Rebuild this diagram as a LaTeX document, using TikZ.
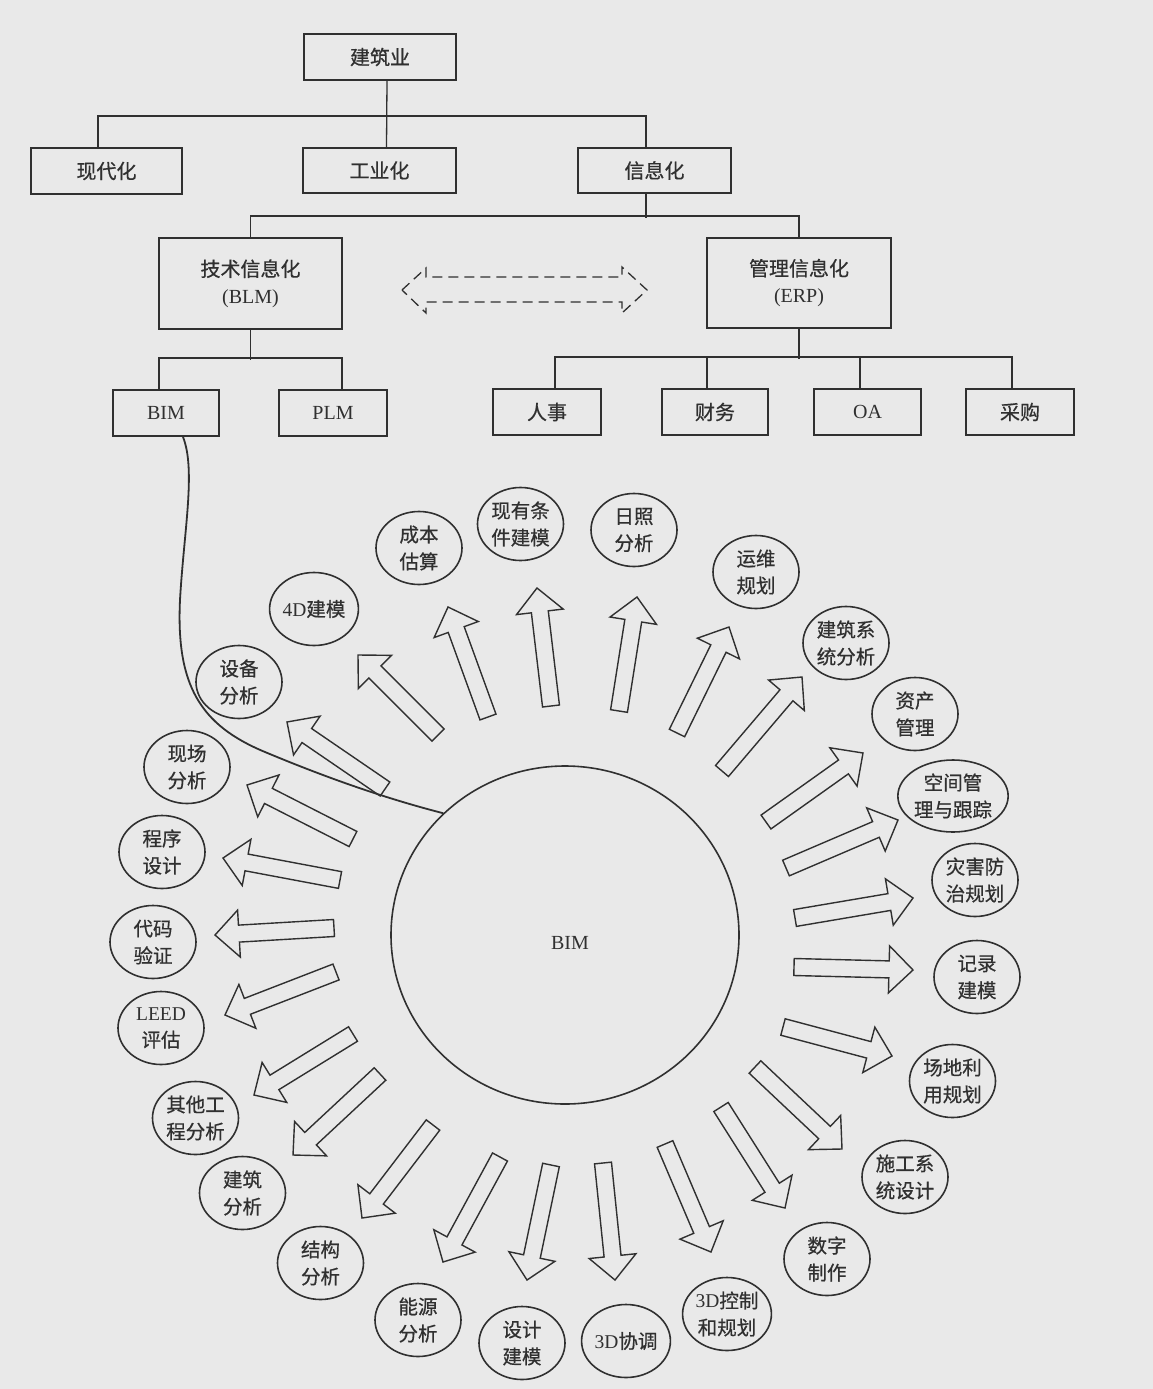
\documentclass[tikz,border=0pt]{standalone}
\usepackage{fontspec}
\setmainfont{Liberation Serif}
\newfontfamily\cjk[FakeBold=0.6]{Noto Sans CJK SC}
\usetikzlibrary{calc,shapes.geometric}
\definecolor{paper}{RGB}{233,233,233}
\definecolor{ink}{RGB}{48,48,48}
\tikzset{
  box/.style={draw=ink, line width=1.8pt, rectangle, inner sep=0pt, text=ink,
    font=\cjk\fontsize{20}{27}\selectfont, align=center},
  bub/.style={draw=ink, line width=1.6pt, ellipse, minimum width=86pt, minimum height=73pt,
    inner sep=0pt, text=ink, font=\cjk\fontsize{19.5}{27}\selectfont, align=center},
  wire/.style={draw=ink, line width=1.3pt},
  blockarr/.style={draw=ink, line width=1.4pt, line join=miter},
  dashline/.style={draw=ink, line width=1.3pt, dash pattern=on 10pt off 6pt},
}
\newcommand\blk[3]{%
  \coordinate (#1a) at #2;
  \coordinate (#1b) at #3;
  \coordinate (#1h) at ($(#1b)!24pt!(#1a)$);
  \draw[blockarr] ($(#1a)!8.5pt!90:(#1b)$) -- ($(#1h)!8.5pt!90:(#1b)$) --
    ($(#1h)!23.5pt!90:(#1b)$) -- (#1b) -- ($(#1h)!23.5pt!-90:(#1b)$) --
    ($(#1h)!8.5pt!-90:(#1b)$) -- ($(#1a)!8.5pt!-90:(#1b)$) -- cycle;}
\begin{document}
\begin{tikzpicture}[x=1pt,y=-1pt]
\fill[paper] (0,0) rectangle (1153,1389);
\useasboundingbox (0,0) rectangle (1153,1389);

% ---- tree ----
\node[box, minimum width=152pt, minimum height=46pt] (jzy) at (380,57) {建筑业};
\node[box, minimum width=151pt, minimum height=46pt] (xdh) at (106.5,171) {现代化};
\node[box, minimum width=153pt, minimum height=45pt] (gyh) at (379.5,170.5) {工业化};
\node[box, minimum width=153pt, minimum height=45pt] (xxh) at (654.5,170.5) {信息化};
\node[box, minimum width=183pt, minimum height=91pt] (jsxx) at (250.5,283.5) {技术信息化\\{\rmfamily (BLM)}};
\node[box, minimum width=184pt, minimum height=90pt] (glxx) at (799,283) {管理信息化\\{\rmfamily (ERP)}};
\node[box, minimum width=106pt, minimum height=46pt] (bimbox) at (166,413) {\rmfamily BIM};
\node[box, minimum width=108pt, minimum height=46pt] (plm) at (333,413) {\rmfamily PLM};
\node[box, minimum width=108pt, minimum height=46pt] (rs) at (547,412) {人事};
\node[box, minimum width=106pt, minimum height=46pt] (cw) at (715,412) {财务};
\node[box, minimum width=107pt, minimum height=46pt] (oa) at (867.5,412) {\rmfamily OA};
\node[box, minimum width=108pt, minimum height=46pt] (cg) at (1020,412) {采购};

\draw[wire] ([xshift=7pt]jzy.south) -- ([xshift=7pt]gyh.north);
\draw[wire] ([xshift=-8.5pt]xdh.north) -- ++(0,-31) -| ([xshift=-8.5pt]xxh.north);
\draw[wire] ([xshift=-8.5pt]xxh.south) -- ++(0,24);
\draw[wire] (jsxx.north) -- ++(0,-21) -| (glxx.north);
\draw[wire] (jsxx.south) -- ++(0,30);
\draw[wire] ([xshift=-7pt]bimbox.north) -- ++(0,-31) -| ([xshift=9pt]plm.north);
\draw[wire] (glxx.south) -- ++(0,30);
\draw[wire] ([xshift=8pt]rs.north) -- ++(0,-31) -| ([xshift=-8pt]cg.north);
\draw[wire] ([xshift=-8pt]cw.north) -- ++(0,-31);
\draw[wire] ([xshift=-7.5pt]oa.north) -- ++(0,-31);

% dashed double arrow
\draw[dashline] (402,290) -- (426,268) -- (426,277) -- (622,277) -- (622,267) -- (647,290)
  -- (622,313) -- (622,302) -- (426,302) -- (426,313) -- cycle;

% ---- BIM circle ----
\node[draw=ink, line width=1.6pt, ellipse, minimum width=348pt, minimum height=338pt, inner sep=0pt] (bim) at (565,935) {};
\node[text=ink, font=\fontsize{20}{24}\selectfont] (bimlabel) at (570,943) {BIM};

% ---- satellites ----
\node[bub] (c1) at (419,548) {成本\\估算};
\node[bub] (c2) at (520.5,524) {现有条\\件建模};
\node[bub] (c3) at (314,609) {{\rmfamily 4D}建模};
\node[bub] (c4) at (239,682) {设备\\分析};
\node[bub] (c5) at (634,530) {日照\\分析};
\node[bub] (c6) at (756,572) {运维\\规划};
\node[bub] (c7) at (846,643) {建筑系\\统分析};
\node[bub] (c8) at (915,714) {资产\\管理};
\node[bub, minimum width=89pt, minimum height=72pt] (c9) at (953,796) {空间管\\理与跟踪};
\node[bub] (c10) at (975,880) {灾害防\\治规划};
\node[bub] (c11) at (977,977) {记录\\建模};
\node[bub] (c12) at (952.5,1081) {场地利\\用规划};
\node[bub] (c13) at (905,1177) {施工系\\统设计};
\node[bub] (c14) at (827,1259) {数字\\制作};
\node[bub] (c15) at (727,1314) {{\rmfamily 3D}控制\\和规划};
\node[bub] (c16) at (626,1341) {{\rmfamily 3D}协调};
\node[bub] (c17) at (522,1343) {设计\\建模};
\node[bub] (c18) at (418,1320) {能源\\分析};
\node[bub] (c19) at (320.5,1263) {结构\\分析};
\node[bub] (c20) at (242.5,1193) {建筑\\分析};
\node[bub] (c21) at (195.5,1118) {其他工\\程分析};
\node[bub] (c22) at (161,1028) {{\rmfamily LEED}\\评估};
\node[bub] (c23) at (153,942) {代码\\验证};
\node[bub] (c24) at (162,852) {程序\\设计};
\node[bub] (c25) at (187,767) {现场\\分析};

% ---- block arrows ----
\blk{a1}{(488,717)}{(448,607)}
\blk{a2}{(551,706)}{(537,588)}
\blk{a3}{(438,735)}{(358,655)}
\blk{a4}{(385,789)}{(287,722)}
\blk{a5}{(619,711)}{(637,597)}
\blk{a6}{(677,733)}{(729,627)}
\blk{a7}{(722,771)}{(802,677)}
\blk{a8}{(766,822)}{(863,753)}
\blk{a9}{(786,868)}{(898,820)}
\blk{a10}{(795,918)}{(913,898)}
\blk{a11}{(794,967)}{(913,970)}
\blk{a12}{(783,1027)}{(892,1056)}
\blk{a13}{(755,1067)}{(842,1149)}
\blk{a14}{(721,1107)}{(785,1208)}
\blk{a15}{(665,1144)}{(711,1252)}
\blk{a16}{(603,1163)}{(615,1280)}
\blk{a17}{(551,1165)}{(527,1280)}
\blk{a18}{(500,1157)}{(443,1262)}
\blk{a19}{(433,1125)}{(362,1218)}
\blk{a20}{(380,1074)}{(293,1155)}
\blk{a21}{(353,1034)}{(254,1095)}
\blk{a22}{(336,972)}{(225,1015)}
\blk{a23}{(334,928)}{(215,935)}
\blk{a24}{(340,880)}{(223,858)}
\blk{a25}{(353,839)}{(247,785)}

% ---- curve from BIM box to BIM circle ----
\draw[wire, line width=1.8pt] ([xshift=17pt]bimbox.south) .. controls (196,470) and (184,530) .. (180,600)
  .. controls (176,685) and (200,725) .. (265,752)
  .. controls (320,775) and (380,797) .. (bim.135);
\end{tikzpicture}
\end{document}
